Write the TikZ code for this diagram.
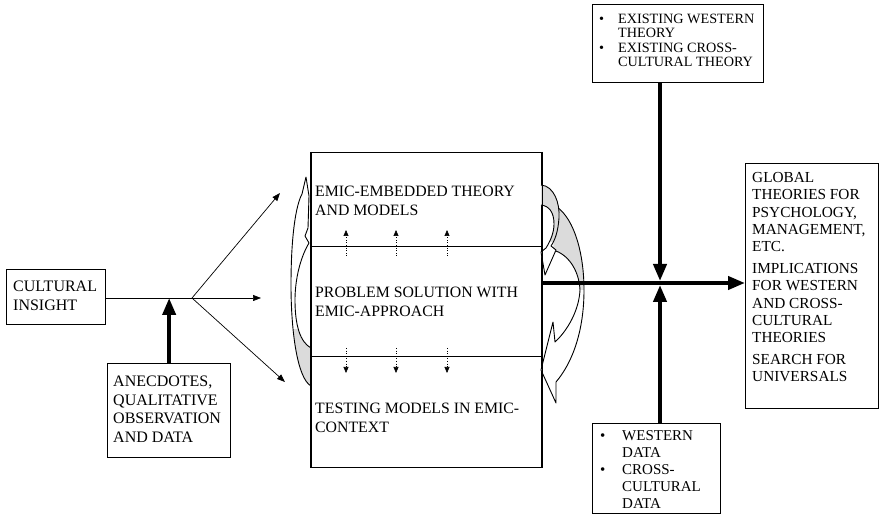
\documentclass[tikz,border=0pt]{standalone}
\usepackage{fontspec}
\setmainfont{Liberation Serif}
\usetikzlibrary{arrows.meta}
\begin{document}
\begin{tikzpicture}[x=1pt,y=-1pt,
  box/.style={draw, line width=1.3pt, inner sep=0pt, anchor=north west},
  txt/.style={anchor=north west, inner sep=0pt, align=left},
  thinarrow/.style={line width=0.7pt, -{Triangle[length=8pt,width=6pt]}},
  heavyarrow/.style={line width=4pt, -{Triangle[length=17pt,width=13pt]}},
  dotarrow/.style={line width=0.6pt, dotted, -{Triangle[length=6pt,width=5pt]}},
  band/.style={line width=0.9pt, line join=round},
  bandshade/.style={fill=gray!28},
]
\useasboundingbox (0,0) rectangle (881,518);

\newcommand\fsMid{\fontsize{15.8}{19}\selectfont}
\newcommand\fsLeft{\fontsize{16}{18.5}\selectfont}
\newcommand\fsTop{\fontsize{14.2}{14.5}\selectfont}
\newcommand\fsBot{\fontsize{15}{17}\selectfont}
\newcommand\fsRes{\fontsize{15.3}{17.4}\selectfont}
\newcommand\bul[1]{\makebox[#1][l]{\textbullet}}

% boxes
\node[box, minimum width=99pt, minimum height=55pt] (ci) at (6,269) {};
\node[box, minimum width=123pt, minimum height=94pt] (an) at (107,363) {};
\node[box, minimum width=230pt, minimum height=315pt] (mid) at (311,152) {};
\node[box, minimum width=171pt, minimum height=78pt] (th) at (592,4) {};
\node[box, minimum width=128pt, minimum height=90pt] (da) at (592,423) {};
\node[box, minimum width=133pt, minimum height=245pt] (res) at (745,163) {};

% section dividers of the central box
\coordinate (d1) at (0,247);
\coordinate (d2) at (0,357);
\draw[line width=1pt] (mid.west |- d1) -- (mid.east |- d1);
\draw[line width=1pt] (mid.west |- d2) -- (mid.east |- d2);

% texts
\node[txt, font=\fsLeft] (ciT) at (13,281) {CULTURAL\\INSIGHT};
\node[txt, font=\fsLeft] (anT) at (113,376) {ANECDOTES,\\QUALITATIVE\\OBSERVATION\\AND DATA};
\node[txt, font=\fsMid] (m1) at (315,185.5) {EMIC-EMBEDDED THEORY\\AND MODELS};
\node[txt, font=\fsMid] (m2) at (315,286.5) {PROBLEM SOLUTION WITH\\EMIC-APPROACH};
\node[txt, font=\fsMid] (m3) at (315,402.5) {TESTING MODELS IN EMIC-\\CONTEXT};
\node[txt, font=\fsTop] (thT) at (599,13.5) {\bul{19pt}EXISTING WESTERN\\\hspace*{19pt}THEORY\\\bul{19pt}EXISTING CROSS-\\\hspace*{19pt}CULTURAL THEORY};
\node[txt, font=\fsBot] (daT) at (600,430) {\bul{22pt}WESTERN\\\hspace*{22pt}DATA\\\bul{22pt}CROSS-\\\hspace*{22pt}CULTURAL\\\hspace*{22pt}DATA};
\node[txt, font=\fsRes] (resT) at (752,172) {GLOBAL\\THEORIES FOR\\PSYCHOLOGY,\\MANAGEMENT,\\ETC.\\[4pt]IMPLICATIONS\\FOR WESTERN\\AND CROSS-\\CULTURAL\\THEORIES\\[4pt]SEARCH FOR\\UNIVERSALS};

% dotted arrows between the sections
\foreach \x [count=\i] in {346,396,447} {
  \coordinate (ua\i) at (\x,256);
  \coordinate (ub\i) at (\x,230);
  \coordinate (da\i) at (\x,348);
  \coordinate (db\i) at (\x,373);
  \draw[dotarrow] (ua\i) -- (ub\i);
  \draw[dotarrow] (da\i) -- (db\i);
}

% curved feedback arrow on the left side
\begin{scope}
  \clip (280,330) rectangle (311,395);
  \fill[bandshade] (311,386) .. controls (297,378) and (291,330) .. (291,285) .. controls (291,235) and (296,205) .. (302,194) -- (306,177) -- (309,196) -- (308,228) -- (305,236) -- (309,243) .. controls (300,258) and (295,280) .. (295,300) .. controls (295,325) and (300,342) .. (311,348) -- cycle;
\end{scope}
\draw[band] (311,386) .. controls (297,378) and (291,330) .. (291,285) .. controls (291,235) and (296,205) .. (302,194) -- (306,177) -- (309,196) -- (308,228) -- (305,236) -- (309,243) .. controls (300,258) and (295,280) .. (295,300) .. controls (295,325) and (300,342) .. (311,348);

% large curved arrow on the right side
\fill[white] (557,207) .. controls (575,220) and (584,255) .. (584,290) .. controls (584,330) and (573,362) .. (556,382) -- (556,403) -- (541,370) -- (553,322) -- (555,342) .. controls (568,330) and (579,310) .. (580,290) .. controls (579,270) and (568,254) .. (553,250) -- cycle;
\begin{scope}
  \clip (541,180) rectangle (590,290);
  \fill[bandshade] (557,207) .. controls (575,220) and (584,255) .. (584,290) .. controls (584,330) and (573,362) .. (556,382) -- (556,403) -- (541,370) -- (553,322) -- (555,342) .. controls (568,330) and (579,310) .. (580,290) .. controls (579,270) and (568,254) .. (553,250) -- cycle;
\end{scope}
\draw[band] (557,207) .. controls (575,220) and (584,255) .. (584,290) .. controls (584,330) and (573,362) .. (556,382) -- (556,403) -- (541,370) -- (553,322) -- (555,342) .. controls (568,330) and (579,310) .. (580,290) .. controls (579,270) and (568,254) .. (553,250);

% small curved arrow on the right side
\fill[white] (541,185) .. controls (554,186) and (560,203) .. (559,218) .. controls (558,232) and (555,240) .. (551,246) -- (556,250) -- (545,275) -- (541,252) -- (546,248) .. controls (551,240) and (554,232) .. (554,224) .. controls (554,212) and (549,206) .. (541,205) -- cycle;
\begin{scope}
  \clip (541,180) rectangle (562,242);
  \fill[bandshade] (541,185) .. controls (554,186) and (560,203) .. (559,218) .. controls (558,232) and (555,240) .. (551,246) -- (556,250) -- (545,275) -- (541,252) -- (546,248) .. controls (551,240) and (554,232) .. (554,224) .. controls (554,212) and (549,206) .. (541,205) -- cycle;
\end{scope}
\draw[band] (541,185) .. controls (554,186) and (560,203) .. (559,218) .. controls (558,232) and (555,240) .. (551,246) -- (556,250) -- (545,275) -- (541,252) -- (546,248) .. controls (551,240) and (554,232) .. (554,224) .. controls (554,212) and (549,206) .. (541,205);

% box edge redrawn over the curved arrows
\draw[line width=1.3pt] (mid.north east) -- (mid.south east);
\draw[line width=1.3pt] (mid.north west) -- (mid.south west);

% input side
\coordinate (split) at (192,298);
\coordinate (t1) at (280,193);
\coordinate (t2) at (261,298);
\coordinate (t3) at (285,382);
\draw[line width=0.8pt] (ci.east |- split) -- (split);
\draw[thinarrow] (split) -- (t1);
\draw[thinarrow] (split) -- (t2);
\draw[thinarrow] (split) -- (t3);
\draw[heavyarrow] (an.north) -- (an.north |- split);

% output side
\coordinate (m) at (0,283);
\coordinate (v) at (660,283);
\draw[heavyarrow] (mid.east |- m) -- (res.west |- m);
\draw[heavyarrow, shorten >=2pt] (th.south -| v) -- (v);
\draw[heavyarrow, shorten >=2pt] (da.north -| v) -- (v);
\end{tikzpicture}
\end{document}
